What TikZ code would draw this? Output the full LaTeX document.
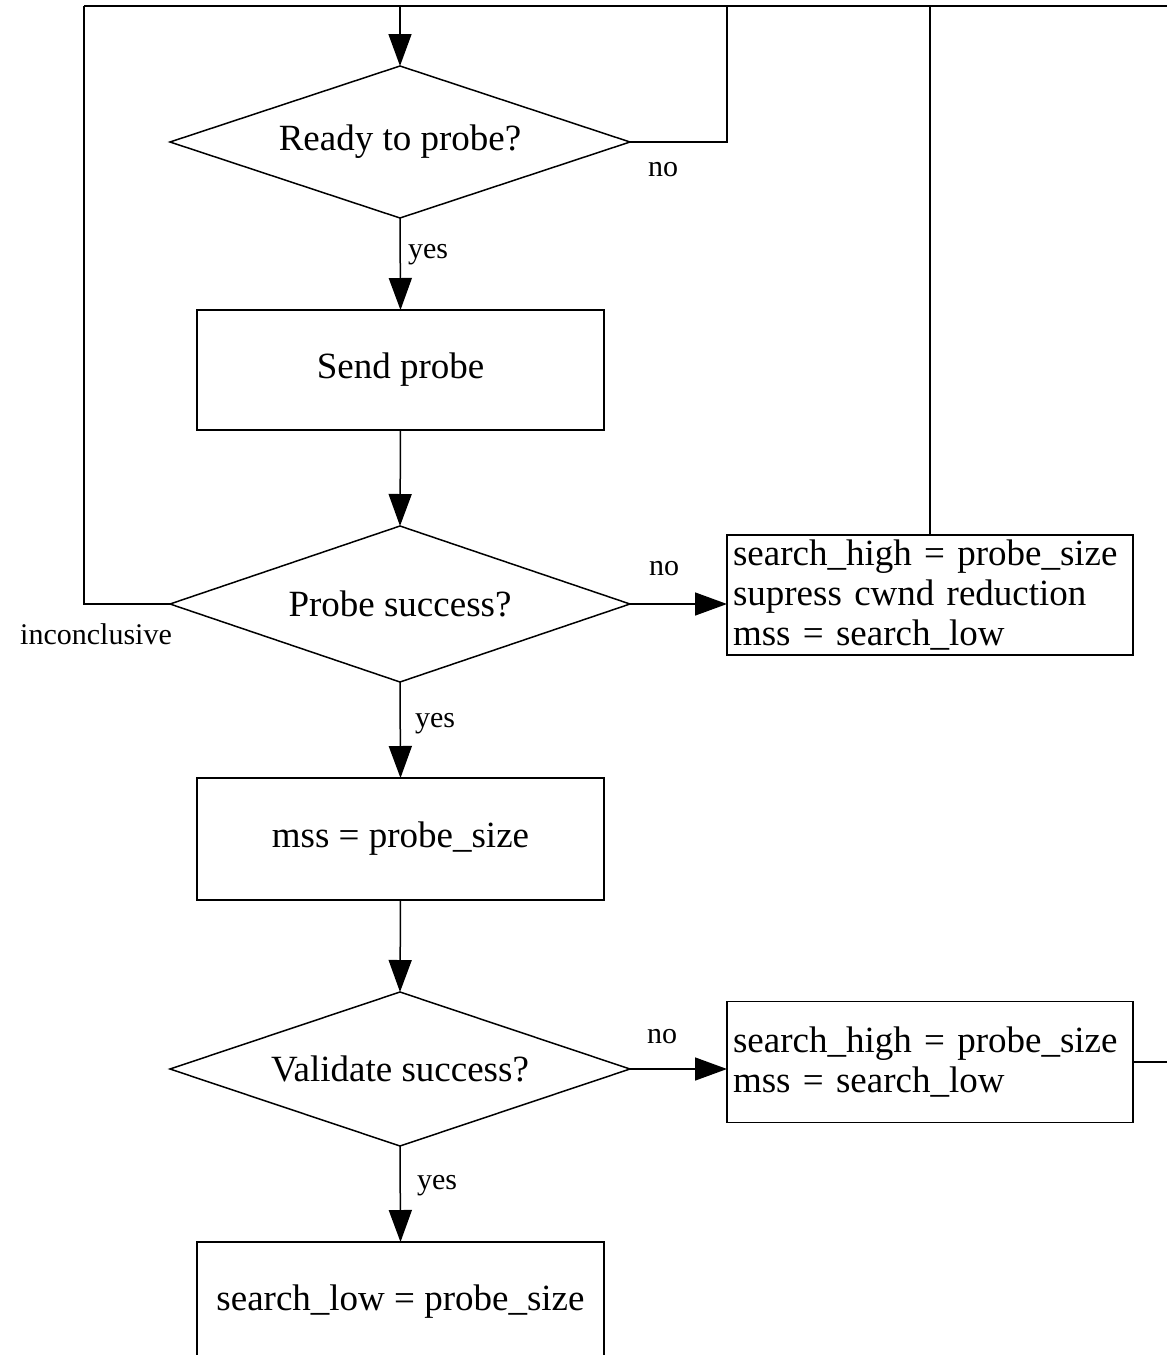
\documentclass[tikz,border=0pt]{standalone}
\usepackage{fontspec}
\setmainfont{Liberation Serif}
\usetikzlibrary{shapes.geometric,arrows.meta}
\begin{document}
\begin{tikzpicture}[x=1pt,y=-1pt,line width=1.5pt,
  decision/.style={draw, diamond, aspect=3, minimum width=460pt, minimum height=154pt, inner sep=0pt, outer sep=0pt, font=\fontsize{37}{40}\selectfont},
  process/.style={draw, rectangle, minimum width=407pt, minimum height=121pt, inner sep=0pt, outer sep=0pt, font=\fontsize{37}{40}\selectfont},
  action/.style={draw, rectangle, minimum width=406pt, minimum height=120pt, text width=394pt, inner xsep=6pt, inner ysep=0pt, outer sep=0pt, align=left, font=\fontsize{37}{40}\selectfont},
  lbl/.style={inner sep=0pt, font=\fontsize{30}{32}\selectfont},
  flow/.style={-{Triangle[length=32pt,width=23pt]}},
]
\useasboundingbox (0,0) rectangle (1167,1355);
\clip (0,0) rectangle (1167,1355);

% nodes
\node[decision, minimum height=152pt] (ready) at (400,142) {Ready to probe?};
\node[process, minimum height=120pt] (send) at (400.5,370) {Send probe};
\node[decision, minimum height=156pt] (probe) at (400,604) {Probe success?};
\node[action] (pno) at (930,595) {search\_high = probe\_size\\supress cwnd reduction\\mss = search\_low};
\node[process, minimum height=122pt] (mss) at (400.5,839) {mss = probe\_size};
\node[decision] (valid) at (400,1069) {Validate success?};
\node[action, minimum height=121pt] (vno) at (930,1062) {search\_high = probe\_size\\mss = search\_low};
\node[process, minimum height=120pt] (slow) at (400.5,1302) {search\_low = probe\_size};

% loop coordinates
\coordinate (tl) at (84,6);
\coordinate (tm) at (400,6);
\coordinate (rn) at (727,6);
\coordinate (tr) at (1200,6);

% connectors
\draw[flow] (tm) -- (ready.north);
\draw (ready.east) -| (rn);
\draw (pno.north) -- (pno.north |- tl);
\draw (probe.west) -| (tl);
\draw (vno.east) -| (tr) -- (tl);
\draw[flow] (ready.south) -- (send.north);
\draw[flow] (send.south) -- (probe.north);
\draw[flow] (probe.east) -- (probe.east -| pno.west);
\draw[flow] (probe.south) -- (mss.north);
\draw[flow] (mss.south) -- (valid.north);
\draw[flow] (valid.east) -- (valid.east -| vno.west);
\draw[flow] (valid.south) -- (slow.north);

% labels
\node[lbl] (noready) at (663,170) {no};
\node[lbl] (yesready) at (428,255) {yes};
\node[lbl] (noprobe) at (664,569) {no};
\node[lbl] (inconc) at (96,634) {inconclusive};
\node[lbl] (yesprobe) at (435,724) {yes};
\node[lbl] (novalid) at (662,1037) {no};
\node[lbl] (yesvalid) at (437,1186) {yes};
\end{tikzpicture}
\end{document}
